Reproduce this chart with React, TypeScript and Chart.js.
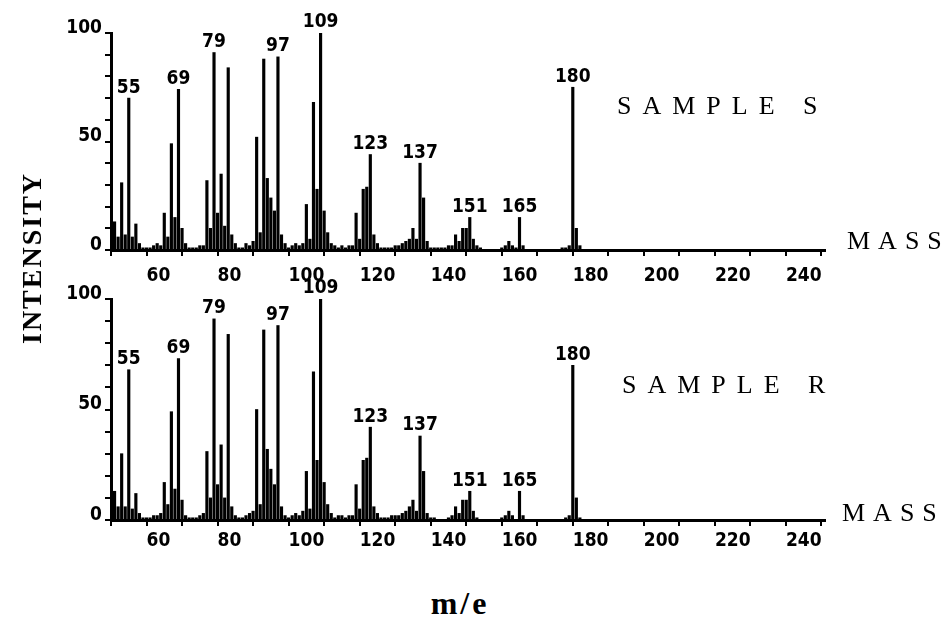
import React, { useEffect, useRef } from 'react';
import { Chart, registerables } from 'chart.js';

Chart.register(...registerables);

// ---------- data ----------
const massesS = [
  50, 51, 52, 53, 54, 55, 56, 57, 58, 59, 60, 61, 62, 63, 64, 65, 66, 67, 68, 69,
  70, 71, 72, 73, 74, 75, 76, 77, 78, 79, 80, 81, 82, 83, 84, 85, 86, 87, 88, 89,
  90, 91, 92, 93, 94, 95, 96, 97, 98, 99, 100, 101, 102, 103, 104, 105, 106, 107, 108, 109,
  110, 111, 112, 113, 114, 115, 116, 117, 118, 119, 120, 121, 122, 123, 124, 125, 126, 127, 128, 129,
  130, 131, 132, 133, 134, 135, 136, 137, 138, 139, 140, 141, 142, 143, 144, 145, 146, 147, 148, 149,
  150, 151, 152, 153, 154, 160, 161, 162, 163, 164, 165, 166, 177, 178, 179, 180, 181, 182,
];
const intensityS = [
  4, 13, 6, 31, 7, 70, 6, 12, 3, 1, 1, 1, 2, 3, 2, 17, 6, 49, 15, 74,
  10, 3, 1, 1, 1, 2, 2, 32, 10, 91, 17, 35, 11, 84, 7, 3, 1, 1, 3, 2,
  4, 52, 8, 88, 33, 24, 18, 89, 7, 3, 1, 2, 3, 2, 3, 21, 5, 68, 28, 100,
  18, 8, 3, 2, 1, 2, 1, 2, 2, 17, 5, 28, 29, 44, 7, 3, 1, 1, 1, 1,
  2, 2, 3, 4, 5, 10, 5, 40, 24, 4, 1, 1, 1, 1, 1, 2, 2, 7, 4, 10,
  10, 15, 5, 2, 1, 1, 2, 4, 2, 1, 15, 2, 1, 1, 2, 75, 10, 2,
];

const massesR = [
  50, 51, 52, 53, 54, 55, 56, 57, 58, 59, 60, 61, 62, 63, 64, 65, 66, 67, 68, 69,
  70, 71, 72, 73, 74, 75, 76, 77, 78, 79, 80, 81, 82, 83, 84, 85, 86, 87, 88, 89,
  90, 91, 92, 93, 94, 95, 96, 97, 98, 99, 100, 101, 102, 103, 104, 105, 106, 107, 108, 109,
  110, 111, 112, 113, 114, 115, 116, 117, 118, 119, 120, 121, 122, 123, 124, 125, 126, 127, 128, 129,
  130, 131, 132, 133, 134, 135, 136, 137, 138, 139, 140, 141, 145, 146, 147, 148, 149,
  150, 151, 152, 153, 160, 161, 162, 163, 165, 166, 178, 179, 180, 181, 182,
];
const intensityR = [
  3, 13, 6, 30, 6, 68, 5, 12, 3, 1, 1, 1, 2, 2, 3, 17, 7, 49, 14, 73,
  9, 2, 1, 1, 1, 2, 3, 31, 10, 91, 16, 34, 10, 84, 6, 2, 1, 1, 2, 3,
  4, 50, 7, 86, 32, 23, 16, 88, 6, 2, 1, 2, 3, 2, 4, 22, 5, 67, 27, 100,
  17, 7, 3, 1, 2, 2, 1, 2, 2, 16, 5, 27, 28, 42, 6, 3, 1, 1, 1, 2,
  2, 2, 3, 4, 6, 9, 4, 38, 22, 3, 1, 1, 1, 2, 6, 3, 9,
  9, 13, 4, 1, 1, 2, 4, 2, 13, 2, 1, 2, 70, 10, 1,
];

const peakLabels = [55, 69, 79, 97, 109, 123, 137, 151, 165, 180];
const xTickValues = [50, 60, 70, 80, 90, 100, 110, 120, 130, 140, 150, 160, 170, 180, 190, 200, 210, 220, 230, 240, 250];
const xTickLabels = [60, 80, 100, 120, 140, 160, 180, 200, 220, 240];
const yTickValues = [0, 10, 20, 30, 40, 50, 60, 70, 80, 90, 100];
const yTickLabels = [0, 50, 100];

const TICK_FONT = "'Liberation Sans Narrow', 'DejaVu Sans Condensed', 'Arial Narrow', sans-serif";
const SERIF = "'Liberation Serif', 'DejaVu Serif', serif";

function makeConfig(masses: number[], values: number[], g: { top: number; xAxisH: number; xPad: number }) {
  const peakPlugin = {
    id: 'peakLabels',
    afterDatasetsDraw(chart: any) {
      const { ctx } = chart;
      const xs = chart.scales.x;
      const ys = chart.scales.y;
      ctx.save();
      ctx.fillStyle = '#000';
      ctx.font = `bold 19px ${TICK_FONT}`;
      ctx.textAlign = 'center';
      ctx.textBaseline = 'bottom';
      peakLabels.forEach((m) => {
        const i = masses.indexOf(m);
        if (i < 0) return;
        ctx.fillText(String(m), xs.getPixelForValue(m), ys.getPixelForValue(values[i]) - 1);
      });
      ctx.restore();
    },
  };
  const font = { family: TICK_FONT, size: 19, weight: 'bold' as const };
  return {
    type: 'bar' as const,
    data: {
      datasets: [
        {
          data: masses.map((m, i) => ({ x: m, y: values[i] })),
          backgroundColor: '#000',
          borderWidth: 0,
          barThickness: 2.5,
        },
      ],
    },
    options: {
      animation: false as const,
      responsive: false,
      layout: { padding: { left: 0, right: 124, top: g.top, bottom: 0 } },
      plugins: { legend: { display: false }, tooltip: { enabled: false } },
      scales: {
        x: {
          type: 'linear' as const,
          offset: false,
          min: 50,
          max: 251,
          afterBuildTicks(s: any) {
            s.ticks = xTickValues.map((v) => ({ value: v }));
          },
          afterFit(s: any) {
            s.height = g.xAxisH;
          },
          grid: { offset: false, drawOnChartArea: false, drawTicks: true, tickLength: 6, lineWidth: 2, color: '#000' },
          border: { display: true, color: '#000', width: 3 },
          ticks: {
            autoSkip: false,
            maxRotation: 0,
            align: 'start' as const,
            padding: g.xPad,
            color: '#000',
            font,
            callback: (v: any) => (xTickLabels.includes(Number(v)) ? String(v) : ''),
          },
        },
        y: {
          min: 0,
          max: 100,
          afterBuildTicks(s: any) {
            s.ticks = yTickValues.map((v) => ({ value: v }));
          },
          afterFit(s: any) {
            s.width = 111;
          },
          grid: { drawOnChartArea: false, drawTicks: true, tickLength: 6, lineWidth: 2, color: '#000' },
          border: { display: true, color: '#000', width: 3 },
          ticks: {
            autoSkip: false,
            padding: 3,
            labelOffset: -5,
            color: '#000',
            font,
            callback: (v: any) => (yTickLabels.includes(Number(v)) ? String(v) : ''),
          },
        },
      },
    },
    plugins: [peakPlugin],
  };
}

function Panel({ top, height, masses, values, g }: any) {
  const ref = useRef<HTMLCanvasElement | null>(null);
  useEffect(() => {
    if (!ref.current) return;
    const chart = new Chart(ref.current, makeConfig(masses, values, g) as any);
    return () => chart.destroy();
  }, []);
  return (
    <canvas
      ref={ref}
      width={949}
      height={height}
      style={{ position: 'absolute', left: 0, top, width: 949, height }}
    />
  );
}

const txt = (extra: React.CSSProperties): React.CSSProperties => ({
  position: 'absolute',
  fontFamily: SERIF,
  color: '#000',
  whiteSpace: 'nowrap',
  lineHeight: 1,
  ...extra,
});

export default function App() {
  return (
    <div style={{ position: 'absolute', left: 0, top: 0, width: 949, height: 623, background: '#fff', overflow: 'hidden' }}>
      <Panel top={0} height={300} masses={massesS} values={intensityS} g={{ top: 33, xAxisH: 50, xPad: 9 }} />
      <Panel top={266} height={300} masses={massesR} values={intensityR} g={{ top: 33, xAxisH: 46, xPad: 4 }} />
      <div style={txt({ left: 617, top: 93, fontSize: 26, height: 26, letterSpacing: '11px' })}>SAMPLE S</div>
      <div style={txt({ left: 622, top: 372, fontSize: 26, height: 26, letterSpacing: '11px' })}>SAMPLE R</div>
      <div style={txt({ left: 847, top: 228, fontSize: 26, height: 26, letterSpacing: '8px' })}>MASS</div>
      <div style={txt({ left: 842, top: 500, fontSize: 26, height: 26, letterSpacing: '8px' })}>MASS</div>
      <div
        style={txt({
          left: 32,
          top: 258,
          fontSize: 28,
          fontWeight: 900,
          letterSpacing: '2px',
          transform: 'translate(-50%, -50%) rotate(-90deg)',
        })}
      >
        INTENSITY
      </div>
      <div
        style={txt({
          left: 460,
          top: 603,
          fontSize: 32,
          fontWeight: 'bold',
          letterSpacing: '3px',
          transform: 'translate(-50%, -50%)',
        })}
      >
        m/e
      </div>
    </div>
  );
}
